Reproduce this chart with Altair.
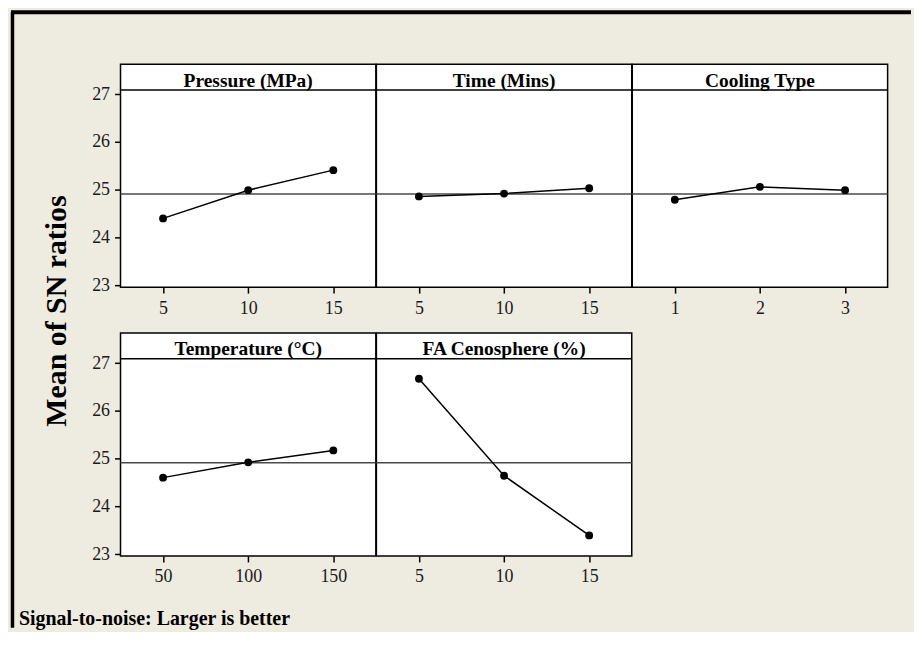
import altair as alt
import pandas as pd

# ---- data ----
factors = ["Pressure (MPa)", "Time (Mins)", "Cooling Type", "Temperature (°C)", "FA Cenosphere (%)"]
pressure_levels = [5, 10, 15]
pressure_sn = [24.40, 24.99, 25.41]
time_levels = [5, 10, 15]
time_sn = [24.86, 24.92, 25.03]
cooling_levels = [1, 2, 3]
cooling_sn = [24.79, 25.06, 24.99]
temp_levels = [50, 100, 150]
temp_sn = [24.60, 24.92, 25.17]
fa_levels = [5, 10, 15]
fa_sn = [26.67, 24.64, 23.39]
grand_mean = 24.91
y_ticks = [23, 24, 25, 26, 27]
y_title = "Mean of SN ratios"
footer = "Signal-to-noise: Larger is better"

levels = [pressure_levels, time_levels, cooling_levels, temp_levels, fa_levels]
sn_means = [pressure_sn, time_sn, cooling_sn, temp_sn, fa_sn]
x_domains = [[2.5, 17.5], [2.5, 17.5], [0.5, 3.5], [25, 175], [2.5, 17.5]]

W = 256.5
H = 224
Y_DOMAIN = [22.96, 27.63]
SERIF = "Liberation Serif"
BG = "#EEEBE1"


def panel(i):
    df = pd.DataFrame({"level": levels[i], "sn": sn_means[i]})
    one = pd.DataFrame({"sn": [grand_mean]})
    show_y = i in (0, 3)
    x = alt.X("level:Q",
              scale=alt.Scale(domain=x_domains[i], nice=False, zero=False),
              axis=alt.Axis(values=levels[i], title=None, labelPadding=6))
    y = alt.Y("sn:Q",
              scale=alt.Scale(domain=Y_DOMAIN, nice=False, zero=False),
              axis=alt.Axis(values=y_ticks, title=None, labelPadding=5) if show_y else None)
    base = alt.Chart(df)
    line = base.mark_line(color="black", strokeWidth=1.5).encode(x=x, y=y)
    pts = base.mark_circle(size=62, color="black", opacity=1).encode(x=x, y=y)
    mean = alt.Chart(one).mark_rule(color="#4a4a4a", strokeWidth=1.5).encode(y=y)
    hdr_line = alt.Chart(one).mark_rule(color="black", strokeWidth=1.5).encode(
        x=alt.value(0), x2=alt.value(W), y=alt.value(26))
    hdr_text = alt.Chart(one).mark_text(
        text=factors[i], font=SERIF, fontSize=19.5, fontWeight="bold",
        align="center", baseline="alphabetic", color="black"
    ).encode(x=alt.value(W / 2), y=alt.value(22.5))
    layers = [mean, line, pts, hdr_line, hdr_text]
    if i == 0:
        top_border = alt.Chart(one).mark_rule(color="black", strokeWidth=4).encode(
            x=alt.value(-110), x2=alt.value(794), y=alt.value(-52))
        left_border = alt.Chart(one).mark_rule(color="black", strokeWidth=3.5).encode(
            x=alt.value(-108.5), y=alt.value(-52), y2=alt.value(566))
        ytitle = alt.Chart(one).mark_text(
            text=y_title, font=SERIF, fontSize=30, fontWeight="bold", angle=270,
            align="center", baseline="middle", color="black"
        ).encode(x=alt.value(-64), y=alt.value(248))
        layers += [top_border, left_border, ytitle]
    if i == 3:
        foot = alt.Chart(one).mark_text(
            text=footer, font=SERIF, fontSize=20, fontWeight="bold",
            align="left", baseline="alphabetic", color="black"
        ).encode(x=alt.value(-102), y=alt.value(293))
        layers += [foot]
    return alt.layer(*layers).properties(width=W, height=H)


chart = alt.concat(
    *[panel(i) for i in range(5)],
    columns=3,
    spacing={"row": 46, "column": 0},
    bounds="flush",
).resolve_scale(x="independent", y="independent").properties(
    padding={"left": 0, "top": 0, "right": 0, "bottom": 0},
    background=BG,
).configure_view(
    stroke="black", strokeWidth=1.5, fill="white"
).configure_axis(
    domain=False, grid=False, tickColor="black", tickWidth=1.5, tickSize=6,
    labelFont=SERIF, labelFontSize=18, labelColor="#1a1a1a"
)

chart.save("out.html", embed_options={"renderer": "svg", "actions": False})
